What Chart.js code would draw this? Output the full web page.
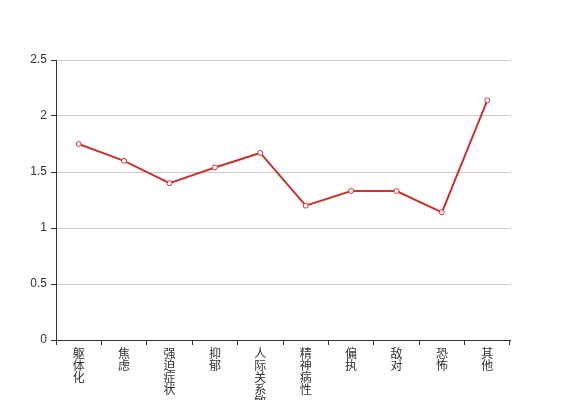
<!DOCTYPE html>
<html>
<head>
<meta charset="utf-8">
<script src="https://cdn.jsdelivr.net/npm/chart.js@4"></script>
<style>
  html, body { margin: 0; padding: 0; background: #fff; }
  #wrap { width: 567px; height: 400px; position: relative; }
</style>
</head>
<body>
<div id="wrap"><canvas id="myChart" width="567" height="400"></canvas></div>
<script>
const categories = ["躯体化", "焦虑", "强迫症状", "抑郁", "人际关系敏感", "精神病性", "偏执", "敌对", "恐怖", "其他"];
const scores = [1.75, 1.6, 1.4, 1.54, 1.67, 1.2, 1.33, 1.33, 1.14, 2.14];
const yTicks = [0, 0.5, 1, 1.5, 2, 2.5];

const ctx = document.getElementById("myChart");
const myChart = new Chart(ctx, {
    type: 'line',
    data: {
        labels: categories.map(c => c.split('')),
        datasets: [{
            data: scores,
            borderColor: '#c23531',
            borderWidth: 2,
            backgroundColor: '#fff',
            pointBackgroundColor: '#fff',
            pointBorderColor: '#c23531',
            pointBorderWidth: 1,
            pointRadius: 2.5,
            tension: 0
        }]
    },
    options: {
        responsive: false,
        animation: false,
        layout: {
            padding: { top: 60, right: 57, bottom: 0, left: 0 }
        },
        plugins: {
            legend: { display: false },
            tooltip: { enabled: false }
        },
        scales: {
            x: {
                offset: true,
                grid: {
                    offset: true,
                    drawOnChartArea: false,
                    drawTicks: true,
                    tickLength: 5,
                    tickColor: '#333'
                },
                border: { color: '#333', width: 1 },
                ticks: {
                    maxRotation: 0,
                    autoSkip: false,
                    padding: 2,
                    color: '#333',
                    font: { family: '"Noto Sans CJK SC", sans-serif', size: 12, lineHeight: 1.0 }
                },
                afterFit: (scale) => { scale.height = 60; }
            },
            y: {
                min: 0,
                max: 2.5,
                afterBuildTicks: (scale) => { scale.ticks = yTicks.map(v => ({ value: v })); },
                grid: {
                    color: '#ccc',
                    tickColor: '#333',
                    tickLength: 5
                },
                border: { color: '#333', width: 1 },
                ticks: {
                    padding: 4,
                    color: '#333',
                    font: { family: 'Helvetica, Arial, "Liberation Sans", sans-serif', size: 12 },
                    callback: (value) => String(value)
                },
                afterFit: (scale) => { scale.width = 56; }
            }
        }
    }
});
</script>
</body>
</html>
